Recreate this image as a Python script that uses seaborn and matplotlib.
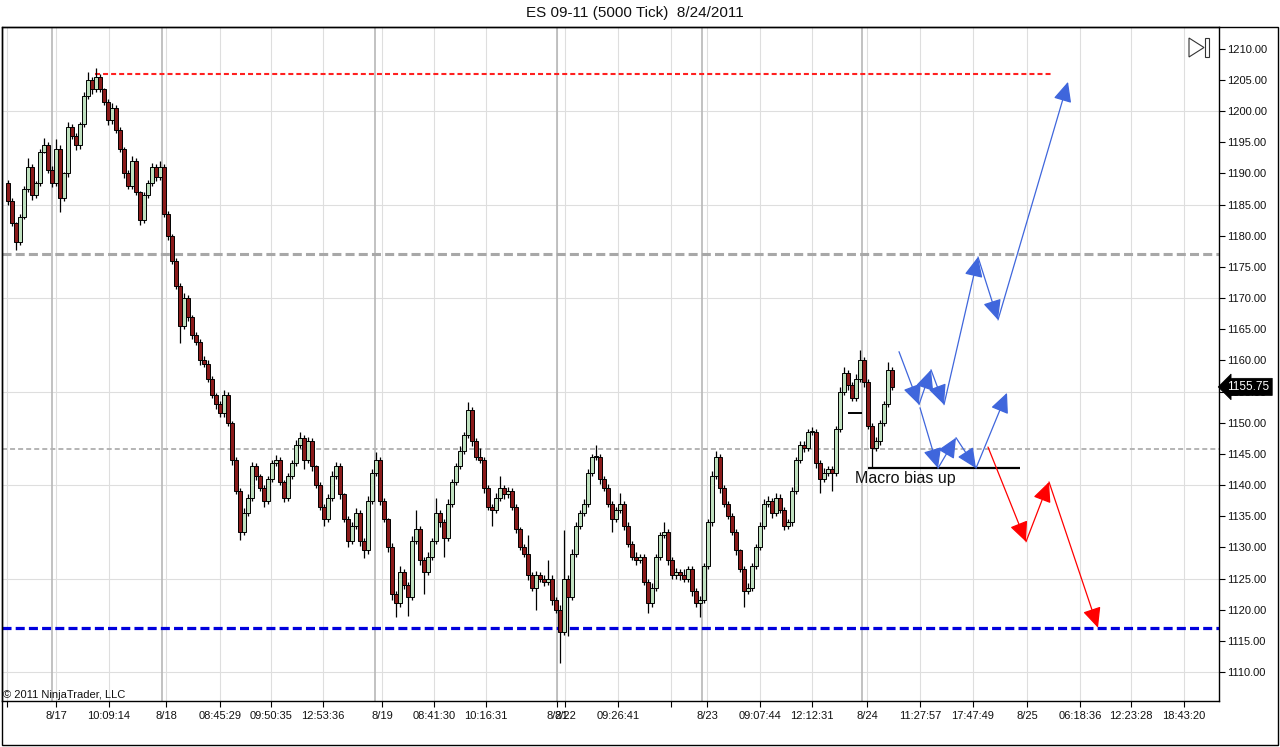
import numpy as np
import pandas as pd
import matplotlib
matplotlib.use("Agg")
import matplotlib.pyplot as plt
from matplotlib.patches import Polygon, Rectangle
import seaborn as sns

# ---- data (5000 tick bars, ES 09-11) ----
first_open = 1188.5
closes = [
    1185.5, 1182, 1179, 1183, 1187.5, 1191, 1186.5, 1188.5, 1193.5, 1194.5,
    1190.5, 1188.5, 1194, 1186, 1190, 1197.5, 1196, 1194.5, 1198, 1202.5,
    1205, 1203.5, 1205.5, 1203.5, 1201.5, 1198.5, 1200.5, 1197, 1194, 1190,
    1188, 1192, 1187, 1182.5, 1186.5, 1188.5, 1191, 1189.5, 1191, 1183.5,
    1180, 1176, 1172, 1165.5, 1170, 1167, 1164, 1163, 1160, 1159.5,
    1157, 1154.5, 1153, 1151.5, 1154.5, 1150, 1144, 1139, 1132.5, 1135.5,
    1138, 1143, 1141.5, 1139.5, 1137.5, 1141, 1143.5, 1144, 1140.5, 1138,
    1141.5, 1143.5, 1146.5, 1147.5, 1144, 1147, 1143, 1140, 1136.5, 1134.5,
    1138, 1141.5, 1143, 1138.5, 1134.5, 1131, 1133.5, 1135.5, 1131, 1129.5,
    1137.5, 1142, 1144, 1137.5, 1134.5, 1130, 1122.5, 1121, 1126, 1124,
    1122, 1131, 1133, 1128, 1126, 1128.5, 1131, 1135.5, 1134, 1131.5,
    1137, 1140.5, 1143, 1145.5, 1148, 1152, 1147, 1144.5, 1144, 1139.5,
    1136.5, 1136, 1138, 1139.5, 1138.5, 1139, 1136.5, 1133, 1130, 1129,
    1125.5, 1123.5, 1125.5, 1125, 1124.5, 1125, 1121.5, 1120, 1116.5, 1125,
    1122, 1129, 1133.5, 1135.5, 1137, 1142, 1144.5, 1144.5, 1141, 1139.5,
    1137, 1134.5, 1136, 1137, 1133.5, 1130.5, 1128.5, 1128, 1128.5, 1124.5,
    1121, 1123.5, 1128.5, 1132, 1132.5, 1128, 1125.5, 1126, 1125.5, 1125,
    1126.5, 1123, 1121, 1121.5, 1127, 1134, 1141.5, 1144.5, 1139.5, 1137,
    1135, 1132.5, 1129.5, 1126.5, 1123, 1123.5, 1127, 1130, 1133.5, 1137,
    1137.5, 1135.5, 1138, 1136, 1133.5, 1134, 1139, 1144, 1146.5, 1146,
    1148.5, 1148.5, 1143.5, 1141, 1142, 1142.5, 1142, 1149, 1155, 1158,
    1156, 1154, 1157, 1160, 1156.5, 1149.5, 1146, 1147, 1150, 1153,
    1158.5, 1155.75,
]
wick_up = [
    0.5, 0.5, 0.25, 0.5, 0.5, 1.5, 0.5, 0.25, 0.5, 1.25,
    0.5, 0.75, 1.5, 0.5, 0.25, 0.75, 0.5, 0.5, 0.25, 0.5,
    1.25, 0.5, 1.5, 0.5, 0.25, 0.5, 0.75, 0.5, 0.5, 0.25,
    0.5, 0.75, 0.5, 0.25, 0.5, 0.5, 0.75, 0.5, 1.0, 0.5,
    0.5, 0.25, 0.5, 0.5, 0.75, 0.5, 0.25, 0.5, 0.5, 0.75,
    0.5, 0.5, 0.25, 0.5, 0.75, 0.5, 0.25, 0.5, 0.5, 0.75,
    0.5, 0.75, 0.5, 0.25, 0.5, 0.5, 0.5, 0.75, 0.5, 0.25,
    0.5, 0.5, 0.75, 1.0, 0.5, 0.75, 0.5, 0.25, 0.5, 0.5,
    0.5, 0.75, 0.75, 0.5, 0.25, 0.5, 0.5, 0.75, 0.5, 0.5,
    0.75, 0.5, 1.25, 0.5, 0.5, 0.25, 0.75, 0.5, 1.0, 0.5,
    0.5, 0.75, 3.0, 0.5, 0.5, 0.75, 0.5, 2.5, 0.5, 0.5,
    0.75, 0.5, 0.5, 0.75, 0.5, 1.25, 0.5, 0.5, 1.5, 0.5,
    0.5, 0.5, 0.75, 2.0, 0.5, 0.75, 0.5, 0.5, 0.25, 0.5,
    3.0, 0.5, 0.75, 0.5, 0.5, 3.0, 0.5, 0.5, 0.75, 7.75,
    0.5, 0.75, 0.5, 0.5, 0.75, 0.5, 0.5, 2.0, 0.5, 0.5,
    0.75, 0.5, 0.5, 1.75, 0.5, 0.5, 0.5, 0.75, 0.5, 0.5,
    0.5, 0.75, 0.5, 0.5, 1.5, 0.5, 0.5, 0.75, 0.5, 1.0,
    0.5, 0.5, 0.5, 0.75, 0.5, 0.5, 0.75, 1.0, 0.5, 0.5,
    0.5, 0.5, 0.5, 0.25, 0.5, 0.75, 0.5, 0.5, 0.5, 0.75,
    0.75, 0.5, 0.75, 0.5, 0.5, 0.5, 0.75, 0.5, 0.5, 0.5,
    0.5, 0.75, 0.5, 0.5, 0.75, 0.5, 0.5, 0.5, 0.75, 1.0,
    0.5, 0.5, 0.75, 1.75, 0.5, 0.5, 0.5, 0.75, 0.5, 0.5,
    1.25, 0.5,
]
wick_dn = [
    0.5, 0.5, 1.25, 0.5, 0.25, 0.5, 0.75, 0.5, 0.5, 0.25,
    0.5, 0.75, 0.5, 2.25, 0.5, 0.5, 0.5, 0.75, 0.5, 0.5,
    0.5, 0.75, 0.5, 0.5, 0.5, 0.75, 0.5, 0.5, 0.5, 0.75,
    0.5, 0.5, 0.5, 0.75, 0.5, 0.5, 0.5, 0.75, 0.5, 0.5,
    0.75, 0.5, 0.5, 2.75, 0.5, 0.75, 0.5, 0.5, 0.75, 0.5,
    0.5, 0.5, 0.75, 0.5, 0.5, 0.5, 0.75, 0.5, 1.25, 0.5,
    0.5, 0.5, 0.75, 0.5, 1.0, 0.5, 0.5, 0.5, 0.5, 0.75,
    0.5, 0.5, 0.5, 0.5, 1.5, 0.5, 0.75, 0.5, 0.5, 1.0,
    0.5, 0.5, 0.5, 0.75, 0.5, 1.0, 0.5, 0.5, 0.75, 1.25,
    0.5, 0.5, 0.5, 0.75, 0.5, 0.75, 1.0, 2.25, 0.5, 0.75,
    3.0, 0.5, 0.5, 0.75, 3.5, 0.5, 0.5, 0.5, 0.75, 3.0,
    0.5, 0.5, 0.5, 0.5, 0.5, 0.5, 0.75, 0.5, 0.5, 0.75,
    0.5, 2.5, 0.5, 0.5, 0.75, 0.5, 0.5, 0.75, 0.5, 0.5,
    0.75, 0.5, 3.5, 0.5, 0.75, 0.5, 0.75, 0.5, 5.0, 0.5,
    6.25, 0.5, 0.5, 0.5, 0.5, 0.5, 0.5, 0.5, 0.75, 0.5,
    0.5, 2.0, 0.5, 0.5, 0.75, 0.5, 0.5, 0.75, 0.5, 0.5,
    1.5, 0.5, 0.5, 0.5, 0.5, 0.75, 0.5, 0.5, 0.75, 0.5,
    0.5, 0.75, 0.5, 2.25, 0.5, 0.5, 0.5, 0.5, 0.75, 0.5,
    0.5, 0.5, 0.75, 0.5, 2.5, 0.5, 0.5, 0.5, 0.5, 0.5,
    0.5, 0.75, 0.5, 0.5, 0.75, 0.5, 0.5, 0.5, 0.5, 0.75,
    0.5, 0.5, 0.75, 2.25, 0.5, 0.5, 3.0, 0.5, 0.5, 0.5,
    0.75, 0.5, 0.5, 0.5, 0.75, 0.5, 3.25, 0.5, 0.5, 0.5,
    0.5, 0.5,
]

# x axis: bar index, labels as printed by the platform
tick_pos = [-0.25, 12, 25.25, 39.5, 53, 65.75, 78.75, 93.5, 106.5, 119.5,
            137.25, 139.25, 152.5, 165.75, 174.75, 188, 201, 214.75, 228,
            241.25, 254.75, 268, 280.75, 294]
tick_labels = ['', '8/17', '10:09:14', '8/18', '08:45:29', '09:50:35',
               '12:53:36', '8/19', '08:41:30', '10:16:31', '8/21', '8/22',
               '09:26:41', '', '8/23', '09:07:44', '12:12:31', '8/24',
               '11:27:57', '17:47:49', '8/25', '06:18:36', '12:23:28',
               '18:43:20']
session_breaks = [11, 38.5, 91.75, 137.25, 173.5, 213.5]

# drawn levels and projected paths
high_level = 1206
resist_level = 1177
mid_level = 1145.75
low_level = 1117
macro_level = 1142.75
small_level = 1151.5
last_price = 1155.75

blue_top_bars = [222.75, 227.75, 230.75, 234.0, 242.5, 247.5, 265.0]
blue_top_prices = [1161.4, 1152.9, 1158.5, 1152.9, 1176.6, 1166.5, 1204.7]
blue_low_bars = [228.0, 232.5, 237.0, 242.0, 249.75]
blue_low_prices = [1152.4, 1142.7, 1147.6, 1142.7, 1154.8]
red_bars = [245.0, 254.5, 260.25, 272.5]
red_prices = [1146.1, 1130.9, 1140.5, 1117.1]

# ---- build candle table ----
df = pd.DataFrame({'bar': np.arange(len(closes)),
                   'open': [first_open] + closes[:-1],
                   'close': closes})
df['top'] = df[['open', 'close']].max(axis=1)
df['bottom'] = df[['open', 'close']].min(axis=1)
df['high'] = df['top'] + np.array(wick_up)
df['low'] = df['bottom'] - np.array(wick_dn)
df['up'] = df['close'] >= df['open']

sns.set_theme(style='white')
plt.rcParams['font.family'] = ['Liberation Sans', 'DejaVu Sans']
plt.rcParams['lines.scale_dashes'] = False

W, H = 1280, 747
fig = plt.figure(figsize=(12.8, 7.47), dpi=100)
fig.patch.set_facecolor('white')
ax = fig.add_axes([2 / W, 46 / H, 1217 / W, 674 / H])
ax.set_facecolor('white')

ax.set_xlim(-1.5, 302.75)
ax.set_ylim(1105.35, 1213.5)

# grid
for y in range(1110, 1201, 15):
    ax.axhline(y, color='#dedede', lw=0.8, zorder=0)
for x in tick_pos:
    ax.axvline(x, color='#dedede', lw=0.8, zorder=0)
for x in session_breaks:
    ax.axvline(x, color='#b8b8b8', lw=1.2, zorder=0)

# level lines
ax.hlines(high_level, 21.75, 261, color='#ff2020', lw=1.5,
          linestyle=(0, (3.6, 2.2)), zorder=2)
ax.axhline(resist_level, color='#a8a8a8', lw=2.2,
           linestyle=(0, (6.5, 3.0)), zorder=1)
ax.axhline(mid_level, color='#b4b4b4', lw=1.4,
           linestyle=(0, (3.6, 2.2)), zorder=1)
ax.axhline(low_level, color='#0000dd', lw=2.3,
           linestyle=(0, (6.5, 3.0)), zorder=2)

# candles
green = '#bfe0bf'
red = '#8a1a1a'
ax.vlines(df['bar'], df['low'], df['high'], color='black', lw=0.9, zorder=3)
ax.bar(df['bar'], (df['top'] - df['bottom']).clip(lower=0.12),
       bottom=df['bottom'], width=0.84,
       color=np.where(df['up'], green, red),
       edgecolor='black', linewidth=0.7, zorder=4)

# drawn black lines and text
ax.hlines(macro_level, 215, 253, color='black', lw=1.6, zorder=5)
ax.hlines(small_level, 210, 213.5, color='black', lw=1.4, zorder=5)
ax.text(211.75, 1141.1, 'Macro bias up', fontsize=11.5, color='#111111',
        ha='left', va='center', zorder=6)


def draw_path(bars, prices, color):
    for i in range(len(bars) - 1):
        ax.annotate('', xy=(bars[i + 1], prices[i + 1]),
                    xytext=(bars[i], prices[i]),
                    arrowprops=dict(arrowstyle='-|>,head_length=0.65,head_width=0.3',
                                    mutation_scale=19, color=color, lw=0.9,
                                    shrinkA=0, shrinkB=0),
                    zorder=6)


draw_path(blue_top_bars, blue_top_prices, '#3f66dc')
draw_path(blue_low_bars, blue_low_prices, '#3f66dc')
draw_path(red_bars, red_prices, '#ff0000')

# axes styling
for s in ax.spines.values():
    s.set_color('black')
    s.set_linewidth(1.0)
ax.set_xticks(tick_pos)
ax.set_xticklabels(tick_labels)
ax.yaxis.tick_right()
yt = np.arange(1110, 1211, 5)
ax.set_yticks(yt)
ax.set_yticklabels([f'{v:.2f}' for v in yt])
ax.tick_params(axis='x', direction='out', length=4, width=0.8, color='black',
               pad=3, labelsize=8, labelcolor='#111111', bottom=True)
ax.tick_params(axis='y', direction='out', length=4, width=0.8, color='black',
               pad=2, labelsize=8, labelcolor='#111111', right=True, left=False)
ax.grid(False)

# last price marker (sits over the 1155.00 label, as in the platform)
ax.text(1.007, last_price, f'{last_price:.2f}', transform=ax.get_yaxis_transform(),
        ha='left', va='center', fontsize=8.5, color='white', zorder=10,
        clip_on=False,
        bbox=dict(boxstyle='larrow,pad=0.22', fc='black', ec='black', lw=0.5))

# copyright
ax.text(0.001, 0.009, '\u00a9 2011 NinjaTrader, LLC', transform=ax.transAxes,
        fontsize=8, color='#111111', ha='left', va='center', zorder=7)

# title
fig.text(635 / W, 1 - 13 / H, 'ES 09-11 (5000 Tick)  8/24/2011',
         ha='center', va='center', fontsize=11, color='#111111')

# scroll-to-end icon
tri = Polygon([(1189 / W, 1 - 38 / H), (1189 / W, 1 - 57 / H),
               (1204 / W, 1 - 47.5 / H)], closed=True, fill=False,
              ec='#333333', lw=0.8, transform=fig.transFigure)
bar_icon = Rectangle((1205 / W, 1 - 57 / H), 4 / W, 19 / H, fill=False,
                     ec='#333333', lw=0.8, transform=fig.transFigure)
fig.patches.extend([tri, bar_icon])

# outer frame
frame = Rectangle((2 / W, 2 / H), 1276 / W, 718 / H, fill=False, ec='black',
                  lw=1.0, transform=fig.transFigure)
fig.patches.append(frame)

fig.savefig('out.png', dpi=100)
